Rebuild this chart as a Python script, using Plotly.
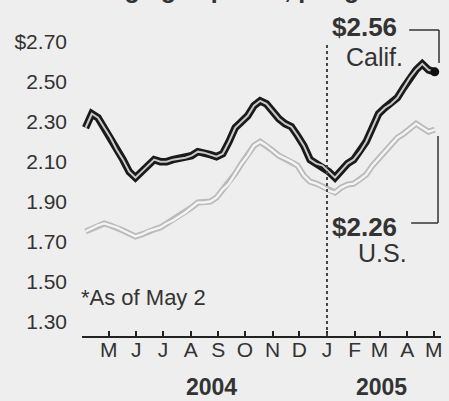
import plotly.graph_objects as go
import pandas as pd

# ---- data (weekly, Mondays) ----
dates = pd.date_range("2004-04-05", "2005-05-02", freq="7D")
calif = [2.27, 2.34, 2.32, 2.27, 2.22, 2.16, 2.11, 2.05, 2.02, 2.05,
         2.08, 2.11, 2.10, 2.10, 2.11, 2.115, 2.12, 2.13, 2.15, 2.145,
         2.135, 2.125, 2.14, 2.20, 2.27, 2.30, 2.33, 2.38, 2.405, 2.39,
         2.35, 2.315, 2.29, 2.275, 2.23, 2.18, 2.11, 2.09, 2.08, 2.05,
         2.02, 2.055, 2.09, 2.11, 2.15, 2.20, 2.27, 2.34, 2.37, 2.39,
         2.42, 2.47, 2.52, 2.56, 2.59, 2.56, 2.55]
us = [1.75, 1.765, 1.78, 1.79, 1.78, 1.77, 1.755, 1.74, 1.725, 1.735,
      1.75, 1.76, 1.77, 1.79, 1.805, 1.825, 1.845, 1.87, 1.895, 1.895,
      1.90, 1.92, 1.96, 1.99, 2.04, 2.09, 2.13, 2.18, 2.20, 2.18,
      2.155, 2.13, 2.115, 2.10, 2.08, 2.03, 2.00, 1.99, 1.975, 1.955,
      1.945, 1.97, 1.985, 1.99, 2.01, 2.035, 2.08, 2.115, 2.155, 2.19,
      2.22, 2.24, 2.265, 2.29, 2.27, 2.25, 2.26]

y_ticks = [1.30, 1.50, 1.70, 1.90, 2.10, 2.30, 2.50, 2.70]
y_labels = ["1.30", "1.50", "1.70", "1.90", "2.10", "2.30", "2.50", "$2.70"]
month_ticks = pd.date_range("2004-04-01", "2005-05-01", freq="MS")
month_labels = ["", "M", "J", "J", "A", "S", "O", "N", "D", "J", "F", "M", "A", "M"]

W, H = 449, 401
L, R, T, B = 82, 6, 20, 65
PW, PH = W - L - R, H - T - B

def px(x):
    return (x - L) / PW

def py(y):
    return (H - B - y) / PH

FONT = "Liberation Sans, Arial, Helvetica, sans-serif"
TXT = "#333333"

fig = go.Figure()
# U.S. line: gray casing with light center
fig.add_trace(go.Scatter(x=dates, y=us, mode="lines",
                         line=dict(color="#bababa", width=6), hoverinfo="skip"))
fig.add_trace(go.Scatter(x=dates, y=us, mode="lines",
                         line=dict(color="#f4f4f4", width=2.4), hoverinfo="skip"))
# California line: black casing with gray center
fig.add_trace(go.Scatter(x=dates, y=calif, mode="lines",
                         line=dict(color="#1a1a1a", width=7.5), hoverinfo="skip"))
fig.add_trace(go.Scatter(x=dates, y=calif, mode="lines",
                         line=dict(color="#c9c9c9", width=2), hoverinfo="skip"))
fig.add_trace(go.Scatter(x=[dates[-1]], y=[calif[-1]], mode="markers",
                         marker=dict(color="#111111", size=9), hoverinfo="skip"))

ann = []
def text(x, y, s, size, bold=False, xanchor="center", yanchor="middle"):
    ann.append(dict(x=px(x), y=py(y), xref="paper", yref="paper",
                    text=("<b>" + s + "</b>") if bold else s,
                    showarrow=False, xanchor=xanchor, yanchor=yanchor,
                    font=dict(family=FONT, size=size, color=TXT)))

text(432, 5, "Average gas prices, per gallon*", 25, bold=True, xanchor="right", yanchor="bottom")
text(366, 27, "$2.56", 26, bold=True)
text(376, 57, "Calif.", 25)
text(366, 227, "$2.26", 26, bold=True)
text(384, 253, "U.S.", 25)
text(79, 297, "*As of May 2", 22, xanchor="left")
text(212, 387, "2004", 23, bold=True)
text(383, 387, "2005", 23, bold=True)

shapes = [
    dict(type="line", xref="x", yref="paper", x0="2005-01-01", x1="2005-01-01",
         y0=0, y1=py(44), line=dict(color="#444444", width=2, dash="dot")),
    # Calif bracket
    dict(type="line", xref="paper", yref="paper", x0=px(411), x1=px(441), y0=py(30), y1=py(30),
         line=dict(color="#333333", width=1.5)),
    dict(type="line", xref="paper", yref="paper", x0=px(441), x1=px(441), y0=py(30), y1=py(63),
         line=dict(color="#333333", width=1.5)),
    # US bracket
    dict(type="line", xref="paper", yref="paper", x0=px(440), x1=px(440), y0=py(136), y1=py(223),
         line=dict(color="#333333", width=1.5)),
    dict(type="line", xref="paper", yref="paper", x0=px(413), x1=px(440), y0=py(223), y1=py(223),
         line=dict(color="#333333", width=1.5)),
]

fig.update_layout(
    width=W, height=H,
    margin=dict(l=L, r=R, t=T, b=B, pad=0),
    paper_bgcolor="#eeeeee", plot_bgcolor="#eeeeee",
    showlegend=False,
    annotations=ann, shapes=shapes,
    font=dict(family=FONT, color=TXT),
    xaxis=dict(type="date", range=["2004-04-01", "2005-05-09"],
               tickvals=list(month_ticks), ticktext=month_labels,
               showgrid=False, zeroline=False,
               showline=True, linecolor="#222222", linewidth=1.5,
               ticks="inside", ticklen=5, tickwidth=1.5, tickcolor="#222222",
               ticklabelstandoff=-6,
               tickfont=dict(family=FONT, size=21, color=TXT)),
    yaxis=dict(range=[1.226, 2.81], tickvals=y_ticks, ticktext=y_labels,
               showgrid=False, zeroline=False, showline=False, ticks="",
               ticklabelstandoff=14,
               tickfont=dict(family=FONT, size=21, color=TXT)),
)

fig.write_html("out.html", config={"displayModeBar": False},
               post_script="document.body.style.margin='0';document.body.style.background='#eeeeee';")
